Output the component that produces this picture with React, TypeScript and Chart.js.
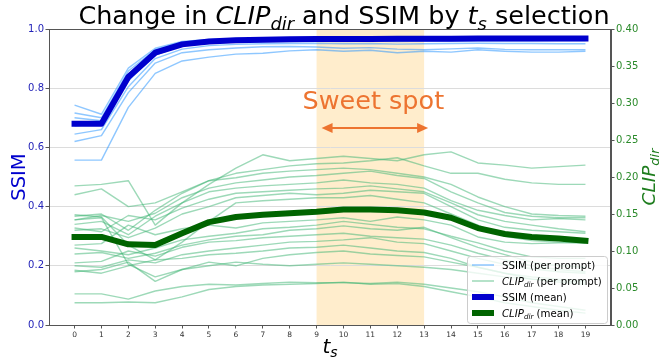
import React, { useEffect, useRef } from "react";
import { Chart, registerables } from "chart.js";

Chart.register(...registerables);

const steps = [0, 1, 2, 3, 4, 5, 6, 7, 8, 9, 10, 11, 12, 13, 14, 15, 16, 17, 18, 19];
const ssimTicks = [0, 0.2, 0.4, 0.6, 0.8, 1.0];
const clipTicks = [0, 0.05, 0.1, 0.15, 0.2, 0.25, 0.3, 0.35, 0.4];
const sweetStart = 9;
const sweetEnd = 13;

const ssimMean = [0.680, 0.680, 0.838, 0.920, 0.948, 0.958, 0.962, 0.964, 0.965, 0.966, 0.966, 0.966, 0.967, 0.967, 0.967, 0.968, 0.968, 0.968, 0.968, 0.968];
const clipMean = [0.119, 0.119, 0.109, 0.108, 0.124, 0.139, 0.146, 0.149, 0.151, 0.153, 0.156, 0.156, 0.155, 0.152, 0.145, 0.131, 0.123, 0.119, 0.117, 0.114];

const ssimP1 = [0.743, 0.712, 0.868, 0.935, 0.958, 0.965, 0.968, 0.969, 0.970, 0.970, 0.970, 0.970, 0.971, 0.971, 0.971, 0.971, 0.971, 0.971, 0.971, 0.971];
const ssimP2 = [0.716, 0.700, 0.858, 0.930, 0.955, 0.962, 0.965, 0.966, 0.967, 0.968, 0.968, 0.968, 0.968, 0.969, 0.969, 0.969, 0.969, 0.969, 0.969, 0.969];
const ssimP3 = [0.700, 0.690, 0.845, 0.925, 0.952, 0.960, 0.963, 0.964, 0.965, 0.966, 0.966, 0.966, 0.966, 0.966, 0.967, 0.967, 0.967, 0.967, 0.967, 0.967];
const ssimP4 = [0.672, 0.682, 0.825, 0.912, 0.944, 0.952, 0.956, 0.957, 0.958, 0.959, 0.958, 0.959, 0.958, 0.959, 0.959, 0.960, 0.960, 0.960, 0.961, 0.961];
const ssimP5 = [0.645, 0.660, 0.805, 0.900, 0.932, 0.944, 0.948, 0.950, 0.951, 0.952, 0.950, 0.951, 0.949, 0.950, 0.951, 0.952, 0.951, 0.951, 0.950, 0.950];
const ssimP6 = [0.620, 0.640, 0.785, 0.885, 0.920, 0.930, 0.936, 0.940, 0.941, 0.939, 0.935, 0.937, 0.932, 0.930, 0.933, 0.936, 0.931, 0.930, 0.930, 0.930];
const ssimP7 = [0.557, 0.557, 0.735, 0.850, 0.892, 0.905, 0.915, 0.918, 0.926, 0.930, 0.925, 0.928, 0.920, 0.925, 0.922, 0.930, 0.925, 0.922, 0.922, 0.925];

const clipA = [0.188, 0.190, 0.195, 0.135, 0.165, 0.190, 0.212, 0.230, 0.222, 0.225, 0.228, 0.225, 0.222, 0.230, 0.234, 0.219, 0.216, 0.212, 0.214, 0.216];
const clipB = [0.176, 0.184, 0.160, 0.165, 0.180, 0.195, 0.205, 0.210, 0.215, 0.218, 0.219, 0.222, 0.226, 0.215, 0.205, 0.205, 0.197, 0.192, 0.190, 0.190];
const clipC = [0.147, 0.150, 0.128, 0.155, 0.178, 0.195, 0.199, 0.205, 0.208, 0.210, 0.212, 0.210, 0.205, 0.200, 0.190, 0.173, 0.160, 0.150, 0.148, 0.147];
const clipD = [0.142, 0.148, 0.140, 0.151, 0.172, 0.185, 0.192, 0.196, 0.200, 0.202, 0.205, 0.208, 0.202, 0.198, 0.180, 0.165, 0.152, 0.147, 0.145, 0.145];
const clipE = [0.136, 0.140, 0.122, 0.147, 0.165, 0.180, 0.185, 0.188, 0.190, 0.192, 0.196, 0.192, 0.190, 0.185, 0.168, 0.155, 0.148, 0.142, 0.144, 0.142];
const clipF = [0.131, 0.126, 0.148, 0.142, 0.158, 0.170, 0.178, 0.180, 0.182, 0.184, 0.185, 0.188, 0.184, 0.180, 0.165, 0.149, 0.140, 0.135, 0.130, 0.126];
const clipG = [0.128, 0.130, 0.118, 0.131, 0.150, 0.160, 0.172, 0.175, 0.178, 0.176, 0.178, 0.182, 0.180, 0.178, 0.160, 0.142, 0.132, 0.128, 0.126, 0.124];
const clipH = [0.149, 0.146, 0.108, 0.088, 0.112, 0.140, 0.165, 0.168, 0.170, 0.172, 0.172, 0.175, 0.170, 0.165, 0.150, 0.135, 0.120, 0.114, 0.112, 0.111];
const clipI = [0.108, 0.110, 0.135, 0.122, 0.130, 0.135, 0.131, 0.138, 0.140, 0.142, 0.145, 0.140, 0.146, 0.142, 0.135, 0.119, 0.112, 0.110, 0.111, 0.111];
const clipJ = [0.104, 0.100, 0.095, 0.104, 0.115, 0.120, 0.124, 0.130, 0.132, 0.135, 0.140, 0.136, 0.132, 0.130, 0.120, 0.111, 0.100, 0.092, 0.090, 0.090];
const clipK = [0.096, 0.098, 0.090, 0.097, 0.108, 0.115, 0.120, 0.122, 0.128, 0.130, 0.134, 0.130, 0.128, 0.132, 0.118, 0.105, 0.095, 0.085, 0.080, 0.078];
const clipL = [0.084, 0.086, 0.100, 0.093, 0.105, 0.112, 0.114, 0.118, 0.120, 0.122, 0.124, 0.120, 0.118, 0.116, 0.108, 0.097, 0.088, 0.080, 0.075, 0.072];
const clipM = [0.080, 0.078, 0.088, 0.084, 0.095, 0.100, 0.104, 0.108, 0.112, 0.113, 0.115, 0.118, 0.112, 0.110, 0.100, 0.090, 0.082, 0.076, 0.072, 0.070];
const clipN = [0.074, 0.070, 0.080, 0.088, 0.090, 0.095, 0.097, 0.100, 0.104, 0.105, 0.108, 0.104, 0.100, 0.098, 0.090, 0.078, 0.070, 0.065, 0.062, 0.060];
const clipO = [0.072, 0.075, 0.085, 0.059, 0.075, 0.085, 0.080, 0.090, 0.095, 0.098, 0.100, 0.096, 0.094, 0.092, 0.085, 0.078, 0.070, 0.062, 0.060, 0.058];
const clipP = [0.142, 0.145, 0.082, 0.065, 0.075, 0.080, 0.085, 0.082, 0.080, 0.082, 0.084, 0.082, 0.080, 0.078, 0.075, 0.070, 0.065, 0.062, 0.058, 0.055];
const clipQ = [0.042, 0.042, 0.035, 0.046, 0.052, 0.055, 0.054, 0.056, 0.058, 0.057, 0.057, 0.056, 0.058, 0.055, 0.050, 0.045, 0.038, 0.030, 0.025, 0.020];
const clipR = [0.030, 0.030, 0.031, 0.030, 0.038, 0.048, 0.052, 0.054, 0.055, 0.056, 0.058, 0.055, 0.056, 0.052, 0.045, 0.038, 0.030, 0.025, 0.020, 0.016];

const ssimPrompts = [ssimP1, ssimP2, ssimP3, ssimP4, ssimP5, ssimP6, ssimP7];
const clipPrompts = [clipA, clipB, clipC, clipD, clipE, clipF, clipG, clipH, clipI, clipJ, clipK, clipL, clipM, clipN, clipO, clipP, clipQ, clipR];

const FONT = '"DejaVu Sans", "Liberation Sans", sans-serif';
const SSIM_LIGHT = "rgba(30,144,255,0.5)";
const CLIP_LIGHT = "rgba(60,179,113,0.5)";
const SSIM_DARK = "#0000cd";
const CLIP_DARK = "#006400";
const ORANGE = "#ed7430";

type Seg = { t: string; it?: boolean; sub?: boolean };

function segFont(s: Seg, size: number) {
  return `${s.it ? "italic " : ""}${s.sub ? size * 0.7 : size}px ${FONT}`;
}

function richWidth(ctx: CanvasRenderingContext2D, segs: Seg[], size: number) {
  let w = 0;
  for (const s of segs) {
    ctx.font = segFont(s, size);
    w += ctx.measureText(s.t).width;
  }
  return w;
}

function drawRich(ctx: CanvasRenderingContext2D, segs: Seg[], x: number, y: number, size: number, color: string, align: "left" | "center") {
  const total = richWidth(ctx, segs, size);
  let cx = align === "center" ? x - total / 2 : x;
  ctx.fillStyle = color;
  ctx.textAlign = "left";
  ctx.textBaseline = "alphabetic";
  for (const s of segs) {
    ctx.font = segFont(s, size);
    ctx.fillText(s.t, cx, y + (s.sub ? size * 0.22 : 0));
    cx += ctx.measureText(s.t).width;
  }
}

const toXY = (arr: number[]) => arr.map((v, i) => ({ x: steps[i], y: v }));

const decorPlugin = {
  id: "decor",
  beforeDraw(chart: any) {
    const { ctx, chartArea, scales } = chart;
    const x0 = scales.x.getPixelForValue(sweetStart);
    const x1 = scales.x.getPixelForValue(sweetEnd);
    ctx.save();
    ctx.fillStyle = "rgba(255,165,0,0.2)";
    ctx.fillRect(x0, chartArea.top, x1 - x0, chartArea.bottom - chartArea.top);
    ctx.restore();
  },
  afterDraw(chart: any) {
    const { ctx, chartArea, scales } = chart;
    ctx.save();
    // spines
    ctx.strokeStyle = "#555";
    ctx.lineWidth = 1;
    ctx.strokeRect(Math.round(chartArea.left) + 0.5, Math.round(chartArea.top) + 0.5, Math.round(chartArea.right - chartArea.left) - 1, Math.round(chartArea.bottom - chartArea.top));

    // title
    drawRich(ctx, [
      { t: "Change in " },
      { t: "CLIP", it: true },
      { t: "dir", it: true, sub: true },
      { t: " and SSIM by " },
      { t: "t", it: true },
      { t: "s", it: true, sub: true },
      { t: " selection" },
    ], 344, 24, 25.5, "#000", "center");

    // sweet spot text + arrow
    const mid = scales.x.getPixelForValue((sweetStart + sweetEnd) / 2);
    ctx.font = `25.5px ${FONT}`;
    ctx.fillStyle = ORANGE;
    ctx.textAlign = "center";
    ctx.textBaseline = "alphabetic";
    ctx.fillText("Sweet spot", mid + 3, 109);
    const ax0 = scales.x.getPixelForValue(sweetStart) + 5;
    const ax1 = scales.x.getPixelForValue(sweetEnd) + 4;
    const ay = 128;
    ctx.strokeStyle = ORANGE;
    ctx.lineWidth = 2.2;
    ctx.beginPath();
    ctx.moveTo(ax0 + 8, ay);
    ctx.lineTo(ax1 - 8, ay);
    ctx.stroke();
    ctx.beginPath();
    ctx.moveTo(ax0, ay);
    ctx.lineTo(ax0 + 11, ay - 5);
    ctx.lineTo(ax0 + 11, ay + 5);
    ctx.closePath();
    ctx.fill();
    ctx.beginPath();
    ctx.moveTo(ax1, ay);
    ctx.lineTo(ax1 - 11, ay - 5);
    ctx.lineTo(ax1 - 11, ay + 5);
    ctx.closePath();
    ctx.fill();

    // axis labels
    ctx.save();
    ctx.translate(25, (chartArea.top + chartArea.bottom) / 2);
    ctx.rotate(-Math.PI / 2);
    drawRich(ctx, [{ t: "SSIM" }], 0, 0, 19.5, SSIM_DARK, "center");
    ctx.restore();

    ctx.save();
    ctx.translate(655, (chartArea.top + chartArea.bottom) / 2);
    ctx.rotate(-Math.PI / 2);
    drawRich(ctx, [{ t: "CLIP", it: true }, { t: "dir", it: true, sub: true }], 0, 0, 18.5, "#1e7d1e", "center");
    ctx.restore();

    drawRich(ctx, [{ t: "t", it: true }, { t: "s", it: true, sub: true }], (chartArea.left + chartArea.right) / 2, 353, 20, "#000", "center");

    // legend
    const lx = 467.5, ly = 256.5, lw = 140, lh = 67;
    ctx.fillStyle = "rgba(255,255,255,0.8)";
    ctx.strokeStyle = "#cccccc";
    ctx.lineWidth = 1;
    ctx.beginPath();
    (ctx as any).roundRect(lx, ly, lw, lh, 3);
    ctx.fill();
    ctx.stroke();
    const rows: { segs: Seg[]; color: string; w: number }[] = [
      { segs: [{ t: "SSIM (per prompt)" }], color: SSIM_LIGHT, w: 1.5 },
      { segs: [{ t: "CLIP", it: true }, { t: "dir", it: true, sub: true }, { t: " (per prompt)" }], color: CLIP_LIGHT, w: 1.5 },
      { segs: [{ t: "SSIM (mean)" }], color: SSIM_DARK, w: 6 },
      { segs: [{ t: "CLIP", it: true }, { t: "dir", it: true, sub: true }, { t: " (mean)" }], color: CLIP_DARK, w: 6 },
    ];
    rows.forEach((r, i) => {
      const y = 265 + i * 16;
      ctx.strokeStyle = r.color;
      ctx.lineWidth = r.w;
      ctx.lineCap = "butt";
      ctx.beginPath();
      ctx.moveTo(472, y);
      ctx.lineTo(494, y);
      ctx.stroke();
      drawRich(ctx, r.segs, 502, y + 3.8, 10.2, "#000", "left");
    });
    ctx.restore();
  },
};

export default function App() {
  const ref = useRef<HTMLCanvasElement | null>(null);
  useEffect(() => {
    document.body.style.margin = "0";
    const canvas = ref.current;
    if (!canvas) return;
    const datasets: any[] = [];
    datasets.push({
      label: "SSIM (mean)", data: toXY(ssimMean), yAxisID: "y", borderColor: SSIM_DARK, borderWidth: 6,
      pointRadius: 0, order: 0, borderCapStyle: "square", borderJoinStyle: "round",
    });
    datasets.push({
      label: "CLIP (mean)", data: toXY(clipMean), yAxisID: "y1", borderColor: CLIP_DARK, borderWidth: 6,
      pointRadius: 0, order: 1, borderCapStyle: "square", borderJoinStyle: "round",
    });
    ssimPrompts.forEach((arr, i) =>
      datasets.push({
        label: "SSIM " + i, data: toXY(arr), yAxisID: "y", borderColor: SSIM_LIGHT, borderWidth: 1.4,
        pointRadius: 0, order: 2, borderJoinStyle: "round",
      })
    );
    clipPrompts.forEach((arr, i) =>
      datasets.push({
        label: "CLIP " + i, data: toXY(arr), yAxisID: "y1", borderColor: CLIP_LIGHT, borderWidth: 1.4,
        pointRadius: 0, order: 3, borderJoinStyle: "round",
      })
    );
    const chart = new Chart(canvas, {
      type: "line",
      data: { datasets },
      options: {
        animation: false,
        responsive: false,
        devicePixelRatio: 1,
        layout: { padding: { top: 29, left: 0, right: 0, bottom: 0 } },
        plugins: { legend: { display: false }, tooltip: { enabled: false }, title: { display: false } },
        scales: {
          x: {
            type: "linear",
            min: -0.95,
            max: 19.95,
            afterBuildTicks: (axis: any) => { axis.ticks = steps.map((v) => ({ value: v })); },
            afterFit: (axis: any) => { axis.height = 34; },
            grid: { drawOnChartArea: false, drawTicks: true, tickLength: 3.5, tickColor: "#555" },
            border: { display: true, color: "#555" },
            ticks: { font: { family: FONT, size: 7.5 }, color: "#333", padding: 2, maxRotation: 0, autoSkip: false, callback: (v: any) => String(v) },
          },
          y: {
            type: "linear",
            position: "left",
            min: 0,
            max: 1,
            afterBuildTicks: (axis: any) => { axis.ticks = ssimTicks.map((v) => ({ value: v })); },
            afterFit: (axis: any) => { axis.width = 49; },
            grid: {
              drawTicks: true, tickLength: 3.5, tickColor: "#555",
              color: (c: any) => (c.tick && (c.tick.value === 0 || c.tick.value === 1) ? "rgba(0,0,0,0)" : "#dcdcdc"),
              lineWidth: 1,
            },
            border: { display: true, color: "#555" },
            ticks: { font: { family: FONT, size: 10 }, color: "#2323b8", padding: 1.5, callback: (v: any) => Number(v).toFixed(1) },
          },
          y1: {
            type: "linear",
            position: "right",
            min: 0,
            max: 0.4,
            afterBuildTicks: (axis: any) => { axis.ticks = clipTicks.map((v) => ({ value: v })); },
            afterFit: (axis: any) => { axis.width = 53; },
            grid: { drawOnChartArea: false, drawTicks: true, tickLength: 3.5, tickColor: "#555" },
            border: { display: true, color: "#555" },
            ticks: { font: { family: FONT, size: 10 }, color: "#2a8a2a", padding: 1.5, callback: (v: any) => Number(v).toFixed(2) },
          },
        },
      },
      plugins: [decorPlugin],
    } as any);
    return () => chart.destroy();
  }, []);
  return (
    <div style={{ width: 664, height: 359, position: "relative" }}>
      <canvas ref={ref} width={664} height={359} style={{ width: 664, height: 359, display: "block" }} />
    </div>
  );
}
